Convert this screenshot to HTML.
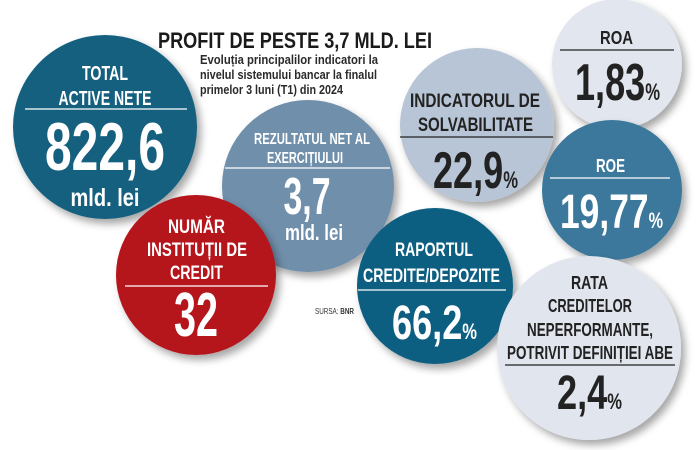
<!DOCTYPE html>
<html><head><meta charset="utf-8"><style>
html,body{margin:0;padding:0;background:#fff;}
svg{display:block;}
text{font-family:"Liberation Sans Narrow","Liberation Sans",sans-serif;font-weight:bold;text-anchor:middle;}
.w{fill:#fff}.d{fill:#222}
</style></head><body>
<svg width="699" height="450" viewBox="0 0 699 450" xmlns="http://www.w3.org/2000/svg">
<defs><filter id="s" x="-20%" y="-20%" width="150%" height="150%"><feDropShadow dx="4" dy="5" stdDeviation="4" flood-color="#000" flood-opacity="0.35"/></filter></defs>
<text x="295" y="48" textLength="274" lengthAdjust="spacingAndGlyphs" style="font-size:22px" fill="#1a1a1a">PROFIT DE PESTE 3,7 MLD. LEI</text>
<g style="font-size:13px" fill="#2a2a2a">
<text x="289" y="64" textLength="178" lengthAdjust="spacingAndGlyphs">Evoluția principalilor indicatori la</text>
<text x="288.5" y="79" textLength="177" lengthAdjust="spacingAndGlyphs">nivelul sistemului bancar la finalul</text>
<text x="271.5" y="94" textLength="143" lengthAdjust="spacingAndGlyphs">primelor 3 luni (T1) din 2024</text>
</g>
<!-- Total -->
<circle cx="105" cy="127" r="92" fill="#12607f" filter="url(#s)"/>
<text x="105" y="80" class="w" style="font-size:20px" textLength="46" lengthAdjust="spacingAndGlyphs">TOTAL</text>
<text x="105" y="105" class="w" style="font-size:20px" textLength="93" lengthAdjust="spacingAndGlyphs">ACTIVE NETE</text>
<line x1="25" y1="109" x2="187" y2="109" stroke="#fff" stroke-width="1.2"/>
<text x="105" y="170" class="w" style="font-size:68px" textLength="120" lengthAdjust="spacingAndGlyphs">822,6</text>
<text x="105" y="206" class="w" style="font-size:25px" textLength="69" lengthAdjust="spacingAndGlyphs">mld. lei</text>
<!-- Rezultat -->
<circle cx="308" cy="186" r="86" fill="#6f8fab" filter="url(#s)"/>
<text x="312" y="144" class="w" style="font-size:16px" textLength="116" lengthAdjust="spacingAndGlyphs">REZULTATUL NET AL</text>
<text x="305" y="163" class="w" style="font-size:16px" textLength="76" lengthAdjust="spacingAndGlyphs">EXERCIȚIULUI</text>
<line x1="225" y1="168" x2="390" y2="168" stroke="#fff" stroke-width="1.2"/>
<text x="307" y="214" class="w" style="font-size:52px" textLength="47" lengthAdjust="spacingAndGlyphs">3,7</text>
<text x="314" y="240" class="w" style="font-size:22px" textLength="58" lengthAdjust="spacingAndGlyphs">mld. lei</text>
<!-- Indicatorul -->
<circle cx="477" cy="125" r="77" fill="#b8c5d6" filter="url(#s)"/>
<text x="475" y="107" class="d" style="font-size:19px" textLength="130" lengthAdjust="spacingAndGlyphs">INDICATORUL DE</text>
<text x="475.5" y="131" class="d" style="font-size:19px" textLength="115" lengthAdjust="spacingAndGlyphs">SOLVABILITATE</text>
<line x1="400" y1="137" x2="553" y2="137" stroke="#222" stroke-width="1.2"/>
<text x="475.5" y="188" class="d" style="font-size:52px" textLength="85" lengthAdjust="spacingAndGlyphs">22,9<tspan style="font-size:24px">%</tspan></text>
<!-- ROA -->
<circle cx="617" cy="64" r="65" fill="#e2e6ee" filter="url(#s)"/>
<text x="616.5" y="44" class="d" style="font-size:18px" textLength="33" lengthAdjust="spacingAndGlyphs">ROA</text>
<line x1="560" y1="50" x2="674" y2="50" stroke="#222" stroke-width="1.2"/>
<text x="617.5" y="100" class="d" style="font-size:52px" textLength="85" lengthAdjust="spacingAndGlyphs">1,83<tspan style="font-size:24px">%</tspan></text>
<!-- ROE -->
<circle cx="612" cy="190" r="70" fill="#3a789c" filter="url(#s)"/>
<text x="610.5" y="172" class="w" style="font-size:18px" textLength="29" lengthAdjust="spacingAndGlyphs">ROE</text>
<line x1="550" y1="178" x2="670" y2="178" stroke="#fff" stroke-width="1.2"/>
<text x="611.5" y="228" class="w" style="font-size:48px" textLength="103" lengthAdjust="spacingAndGlyphs">19,77<tspan style="font-size:22px">%</tspan></text>
<!-- Numar -->
<circle cx="196" cy="275" r="80" fill="#b5121b" filter="url(#s)"/>
<text x="196.5" y="233" class="w" style="font-size:19px" textLength="57" lengthAdjust="spacingAndGlyphs">NUMĂR</text>
<text x="197" y="256" class="w" style="font-size:19px" textLength="100" lengthAdjust="spacingAndGlyphs">INSTITUȚII DE</text>
<text x="196.5" y="279" class="w" style="font-size:19px" textLength="53" lengthAdjust="spacingAndGlyphs">CREDIT</text>
<line x1="125" y1="286" x2="268" y2="286" stroke="#fff" stroke-width="1.2"/>
<text x="196" y="336" class="w" style="font-size:62px" textLength="44" lengthAdjust="spacingAndGlyphs">32</text>
<!-- Raportul -->
<circle cx="435" cy="286" r="78" fill="#0d5f82" filter="url(#s)"/>
<text x="434" y="256" class="w" style="font-size:19px" textLength="78" lengthAdjust="spacingAndGlyphs">RAPORTUL</text>
<text x="431.5" y="282" class="w" style="font-size:19px" textLength="137" lengthAdjust="spacingAndGlyphs">CREDITE/DEPOZITE</text>
<line x1="358" y1="290" x2="506" y2="290" stroke="#fff" stroke-width="1.2"/>
<text x="434.5" y="339" class="w" style="font-size:48px" textLength="85" lengthAdjust="spacingAndGlyphs">66,2<tspan style="font-size:22px">%</tspan></text>
<text x="334.5" y="314" style="font-size:8px;font-weight:normal" fill="#333" textLength="39" lengthAdjust="spacingAndGlyphs">SURSA: <tspan style="font-weight:bold">BNR</tspan></text>
<!-- Rata -->
<circle cx="589" cy="348" r="92" fill="#e1e5ee" filter="url(#s)"/>
<text x="589.5" y="289" class="d" style="font-size:18px" textLength="37" lengthAdjust="spacingAndGlyphs">RATA</text>
<text x="590" y="312" class="d" style="font-size:18px" textLength="84" lengthAdjust="spacingAndGlyphs">CREDITELOR</text>
<text x="590" y="336" class="d" style="font-size:18px" textLength="126" lengthAdjust="spacingAndGlyphs">NEPERFORMANTE,</text>
<text x="590" y="359" class="d" style="font-size:18px" textLength="166" lengthAdjust="spacingAndGlyphs">POTRIVIT DEFINIȚIEI ABE</text>
<line x1="505" y1="365" x2="675" y2="365" stroke="#222" stroke-width="1.2"/>
<text x="589.5" y="409" class="d" style="font-size:48px" textLength="65" lengthAdjust="spacingAndGlyphs">2,4<tspan style="font-size:22px">%</tspan></text>
</svg>
</body></html>
